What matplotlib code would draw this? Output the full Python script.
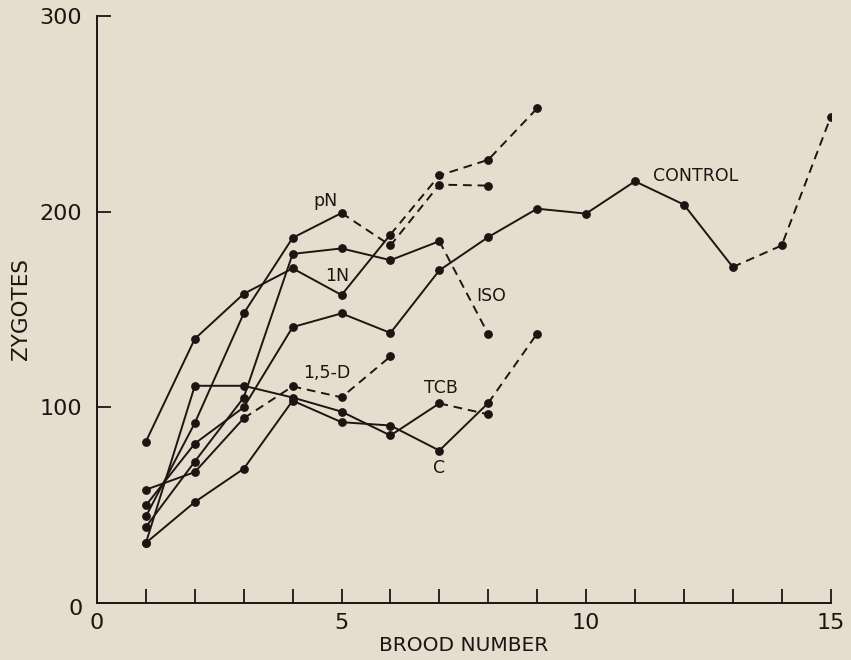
import matplotlib.pyplot as plt

# ─── DONNÉES ──────────────────────────────────────────────────────────────────
# chaque série : valeurs pour les couvées 1..n ; DASH_* = couvée à partir de
# laquelle les segments sont en tirets

BROOD_MAX = 15

CONTROL = [49.9, 81.5, 100, 141, 148, 138, 170, 187, 201.5, 199, 215.5, 203.6, 171.7, 182.7, 248.2]
DASH_CONTROL = 13

N1 = [82.5, 135, 158, 171, 157.4, 188.3, 218.5, 226.5, 252.8]
DASH_N1 = 6

PN = [44.3, 92, 148, 186.6, 199.3, 182.7, 213.8, 213.3]
DASH_PN = 5

ISO = [38.9, 72.3, 105, 178.4, 181.2, 175.2, 184.9, 137.4]
DASH_ISO = 7

D15 = [57.9, 66.9, 94.4, 110.7, 105.1, 126]
DASH_D15 = 3

TCB = [30.7, 111, 111, 105, 97.8, 85.6, 102, 96.4]
DASH_TCB = 7

C = [30.7, 51.6, 68.6, 103.4, 92.4, 90.7, 77.9, 102.2, 137.7]
DASH_C = 8

SERIES = [
    (CONTROL, DASH_CONTROL),
    (N1, DASH_N1),
    (PN, DASH_PN),
    (ISO, DASH_ISO),
    (D15, DASH_D15),
    (TCB, DASH_TCB),
    (C, DASH_C),
]

# étiquettes des courbes : (texte, x, y)
LABELS = [
    ("CONTROL", 12.24, 218.4),
    ("pN", 4.67, 205.3),
    ("1N", 4.91, 167.1),
    ("ISO", 8.07, 156.9),
    ("1,5-D", 4.69, 117.3),
    ("TCB", 7.04, 109.9),
    ("C", 7.0, 69.1),
]

X_TICKS = list(range(1, 16))
X_LABELS = [0, 5, 10, 15]
Y_TICKS = [100, 200, 300]
Y_LABELS = [0, 100, 200, 300]

# ─── STYLE ────────────────────────────────────────────────────────────────────
FOND = "#e6ddcf"
ENCRE = "#1b1611"
TIRETS = (0, (4.5, 3))

fig = plt.figure(figsize=(8.51, 6.60), dpi=100)
fig.patch.set_facecolor(FOND)
ax = fig.add_axes([0.114, 0.0864, 0.862, 0.8894])
ax.set_facecolor(FOND)

for valeurs, dash in SERIES:
    xs = list(range(1, len(valeurs) + 1))
    # segments pleins puis segments en tirets
    n_plein = min(dash, len(valeurs))
    ax.plot(xs[:n_plein], valeurs[:n_plein], color=ENCRE, lw=1.4,
            solid_capstyle="round", zorder=2)
    if dash < len(valeurs):
        ax.plot(xs[dash - 1:], valeurs[dash - 1:], color=ENCRE, lw=1.4,
                linestyle=TIRETS, zorder=2)
    ax.plot(xs, valeurs, "o", color=ENCRE, ms=5.3, zorder=3)

for texte, x, y in LABELS:
    ax.text(x, y, texte, ha="center", va="center", fontsize=12.5,
            color=ENCRE)

ax.set_xlim(0, BROOD_MAX)
ax.set_ylim(0, 300)
ax.spines[["top", "right"]].set_visible(False)
ax.spines[["left", "bottom"]].set_color(ENCRE)
ax.spines[["left", "bottom"]].set_linewidth(1.4)

ax.set_xticks(X_TICKS)
ax.set_xticklabels([])
ax.set_yticks(Y_TICKS)
ax.set_yticklabels([])
ax.tick_params(direction="in", length=10, width=1.3, color=ENCRE)

# libellés des graduations placés à la main (décalés comme sur l'original)
for v in X_LABELS:
    ax.text(v, -5, str(v), ha="center", va="top",
            fontsize=16, color=ENCRE, clip_on=False)
for v in Y_LABELS:
    ax.text(-0.3, v - (3 if v == 0 else 1), str(v), ha="right", va="center",
            fontsize=16, color=ENCRE, clip_on=False)

ax.set_xlabel("BROOD NUMBER", fontsize=14.5, color=ENCRE, labelpad=20)
ax.set_ylabel("ZYGOTES", fontsize=15.5, color=ENCRE, labelpad=44)

fig.savefig("out.png", dpi=100, facecolor=FOND)
